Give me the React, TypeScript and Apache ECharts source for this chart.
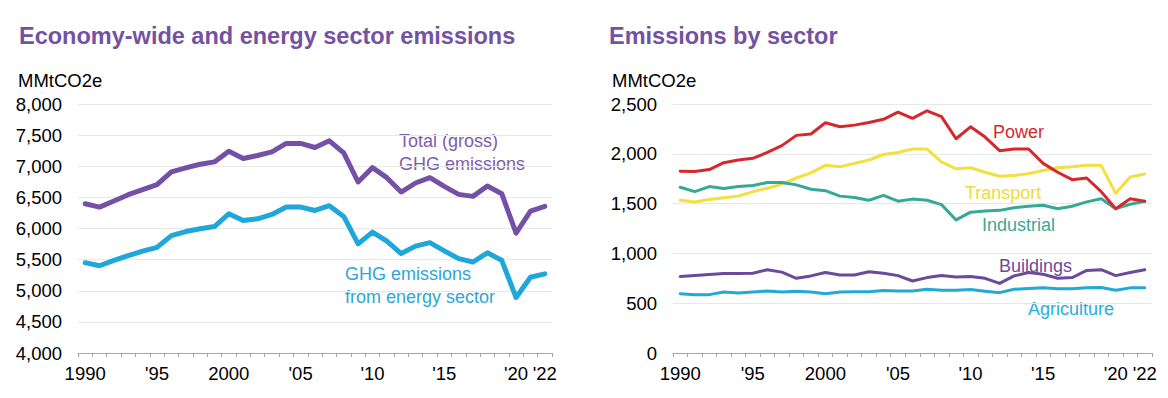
import React, { useEffect, useRef } from "react";
import * as echarts from "echarts";

const years = Array.from({ length: 33 }, (_, i) => String(1990 + i));
const yearLabels: Record<string, string> = {
  "1990": "1990", "1995": "'95", "2000": "2000", "2005": "'05",
  "2010": "'10", "2015": "'15", "2020": "'20", "2022": "'22",
};

const totalGross = [6398, 6344, 6441, 6543, 6624, 6704, 6909, 6973, 7032, 7070, 7242, 7124, 7172, 7231, 7366, 7366, 7301, 7409, 7215, 6747, 6978, 6817, 6586, 6731, 6817, 6677, 6548, 6516, 6683, 6559, 5925, 6280, 6355];
const energySector = [5451, 5402, 5489, 5565, 5636, 5696, 5886, 5951, 5995, 6032, 6237, 6129, 6156, 6226, 6344, 6344, 6290, 6366, 6194, 5753, 5941, 5796, 5598, 5717, 5772, 5641, 5516, 5462, 5609, 5489, 4891, 5217, 5272];

const power = [1825, 1822, 1842, 1911, 1938, 1955, 2014, 2082, 2185, 2199, 2312, 2271, 2288, 2315, 2346, 2418, 2356, 2432, 2373, 2151, 2271, 2168, 2031, 2048, 2048, 1904, 1815, 1740, 1757, 1620, 1449, 1548, 1524];
const transport = [1534, 1517, 1541, 1558, 1575, 1620, 1654, 1695, 1757, 1808, 1884, 1870, 1904, 1938, 1993, 2014, 2048, 2048, 1918, 1849, 1860, 1815, 1774, 1781, 1801, 1832, 1860, 1870, 1884, 1884, 1603, 1767, 1798];
const industrial = [1664, 1620, 1671, 1651, 1671, 1681, 1712, 1712, 1688, 1644, 1630, 1575, 1562, 1534, 1582, 1524, 1545, 1534, 1490, 1336, 1414, 1425, 1432, 1459, 1473, 1483, 1449, 1473, 1517, 1548, 1449, 1493, 1524];
const buildings = [767, 777, 788, 798, 798, 801, 836, 812, 750, 774, 808, 784, 784, 815, 801, 777, 723, 757, 777, 764, 767, 750, 699, 774, 808, 791, 750, 757, 829, 836, 777, 808, 836];
const agriculture = [596, 586, 586, 613, 603, 613, 623, 613, 620, 613, 596, 613, 616, 616, 627, 623, 623, 640, 630, 630, 637, 620, 606, 640, 647, 654, 644, 644, 654, 658, 630, 654, 654];

const FONT = "'Liberation Sans', Arial, Helvetica, sans-serif";
const TITLE_COLOR = "#7352a4";
const AXIS_FS = 18.5;

function xAxis(gridIndex: number) {
  return {
    type: "category" as const,
    gridIndex,
    data: years,
    boundaryGap: true,
    axisLine: { lineStyle: { color: "#a6a6a6", width: 1 } },
    axisTick: { show: true, interval: 0, length: 4, lineStyle: { color: "#a6a6a6" } },
    axisLabel: {
      interval: 0,
      margin: 11,
      fontSize: AXIS_FS,
      fontFamily: FONT,
      color: "#000",
      formatter: (v: string) => yearLabels[v] ?? "",
    },
    splitLine: { show: false },
  };
}

function yAxis(gridIndex: number, min: number, max: number) {
  return {
    type: "value" as const,
    gridIndex,
    min,
    max,
    interval: 500,
    axisLine: { show: false },
    axisTick: { show: false },
    axisLabel: {
      margin: 16,
      fontSize: AXIS_FS,
      fontFamily: FONT,
      color: "#000",
      formatter: (v: number) => v.toLocaleString("en-US"),
    },
    splitLine: { lineStyle: { color: "#e8e8e8", width: 1 } },
  };
}

function line(name: string, data: number[], color: string, width: number, xi: number, z = 2) {
  return {
    type: "line" as const,
    name,
    data,
    xAxisIndex: xi,
    yAxisIndex: xi,
    symbol: "none",
    z,
    lineStyle: { color, width, join: "round", cap: "round" },
  };
}

function label(text: string, x: number, y: number, fill: string) {
  return {
    type: "text" as const,
    x,
    y,
    style: { text, fill, font: `18px ${FONT}`, lineHeight: 23, textVerticalAlign: "top" },
  };
}

export default function App() {
  const ref = useRef<HTMLDivElement>(null);
  useEffect(() => {
    document.body.style.margin = "0";
    const chart = echarts.init(ref.current!, undefined, { renderer: "svg" });
    chart.setOption({
      animation: false,
      backgroundColor: "#fff",
      title: [
        { text: "Economy-wide and energy sector emissions", left: 14, top: 19, textStyle: { fontSize: 23.5, fontWeight: "bold", fontFamily: FONT, color: TITLE_COLOR } },
        { text: "Emissions by sector", left: 604, top: 19, textStyle: { fontSize: 23.5, fontWeight: "bold", fontFamily: FONT, color: TITLE_COLOR } },
      ],
      grid: [
        { left: 78, top: 104, width: 474, height: 249 },
        { left: 673, top: 104, width: 479, height: 249 },
      ],
      xAxis: [xAxis(0), xAxis(1)],
      yAxis: [yAxis(0, 4000, 8000), yAxis(1, 0, 2500)],
      series: [
        line("Total (gross) GHG emissions", totalGross, "#7451a6", 5, 0),
        line("GHG emissions from energy sector", energySector, "#1fa7db", 5, 0),
        line("Agriculture", agriculture, "#22a9d8", 3, 1),
        line("Buildings", buildings, "#6b4a9c", 3, 1),
        line("Transport", transport, "#f2e03e", 3, 1),
        line("Industrial", industrial, "#36a996", 3, 1, 3),
        line("Power", power, "#d4282d", 3, 1, 4),
      ],
      graphic: [
        { type: "text", x: 18, y: 71, style: { text: "MMtCO2e", fill: "#000", font: `18.5px ${FONT}` } },
        { type: "text", x: 612, y: 71, style: { text: "MMtCO2e", fill: "#000", font: `18.5px ${FONT}` } },
        label("Total (gross)\nGHG emissions", 399, 129, "#7b5ea9"),
        label("GHG emissions\nfrom energy sector", 345, 262, "#2ea6d6"),
        label("Power", 993, 120, "#cf2a2e"),
        label("Transport", 965, 181, "#eedb3a"),
        label("Industrial", 982, 213, "#3aa898"),
        label("Buildings", 999, 254, "#6b4c9a"),
        label("Agriculture", 1028, 297, "#2aaedb"),
      ],
    });
    return () => chart.dispose();
  }, []);
  return <div ref={ref} style={{ width: 1168, height: 398 }} />;
}
